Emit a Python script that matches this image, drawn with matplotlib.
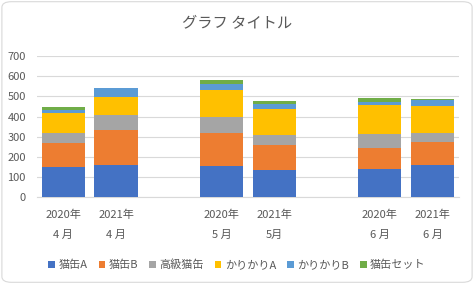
import numpy as np
import matplotlib
matplotlib.use("Agg")
import matplotlib.pyplot as plt
from matplotlib.patches import FancyBboxPatch

plt.rcParams['font.family'] = ['Noto Sans CJK JP', 'DejaVu Sans']

# categories (empty strings are the gaps between months)
labels = ['2020年\n4 月', '2021年\n4 月', '', '2020年\n5 月', '2021年\n5月', '',
          '2020年\n6 月', '2021年\n6 月']
series = ['猫缶A', '猫缶B', '高級猫缶', 'かりかりA', 'かりかりB', '猫缶セット']
nekokan_a = [149, 161, 0, 156, 136, 0, 141, 161]
nekokan_b = [121, 173, 0, 165, 124, 0, 104, 111]
koukyu = [48, 73, 0, 76, 50, 0, 68, 48]
karikari_a = [99, 90, 0, 133, 129, 0, 142, 134]
karikari_b = [15, 42, 0, 33, 22, 0, 15, 28]
nekokan_set = [15, 4, 0, 20, 17, 0, 22, 5]
colors = ['#4472C4', '#ED7D31', '#A5A5A5', '#FFC000', '#5B9BD5', '#70AD47']

values = [nekokan_a, nekokan_b, koukyu, karikari_a, karikari_b, nekokan_set]

fig = plt.figure(figsize=(4.74, 2.84), dpi=100)
ax = fig.add_axes([0.078, 0.305, 0.890, 0.498])

x = np.arange(len(labels))
bottom = np.zeros(len(labels))
handles = []
for name, vals, c in zip(series, values, colors):
    vals = np.array(vals)
    b = ax.bar(x, vals, 0.82, bottom=bottom, color=c, label=name, zorder=3)
    handles.append(b)
    bottom += vals

ax.set_ylim(0, 700)
ax.set_xlim(-0.5, len(labels) - 0.5)
ax.set_yticks(range(0, 701, 100))
ax.grid(axis='y', color='#D9D9D9', linewidth=0.8, zorder=0)
for s in ['top', 'right', 'left']:
    ax.spines[s].set_visible(False)
ax.spines['bottom'].set_color('#D9D9D9')
ax.tick_params(axis='y', length=0, pad=8, labelsize=8, labelcolor='#595959')
ax.tick_params(axis='x', length=0, pad=9, labelsize=8, labelcolor='#595959')
ax.set_xticks(x)
ax.set_xticklabels(labels, linespacing=2.25)

fig.suptitle('グラフ タイトル', y=0.948, fontsize=11, color='#595959')

fig.legend(handles=handles, labels=series, loc='center', bbox_to_anchor=(0.5, 0.068),
           ncol=6, frameon=False, fontsize=8, handlelength=0.6, handleheight=0.6,
           handletextpad=0.3, columnspacing=1.0, labelcolor='#595959')

frame = FancyBboxPatch((0.004, 0.006), 0.992, 0.988, boxstyle='round,pad=0,rounding_size=0.02',
                       transform=fig.transFigure, facecolor='none', edgecolor='#D9D9D9',
                       linewidth=0.8)
fig.patches.append(frame)

fig.savefig('out.png', dpi=100)
